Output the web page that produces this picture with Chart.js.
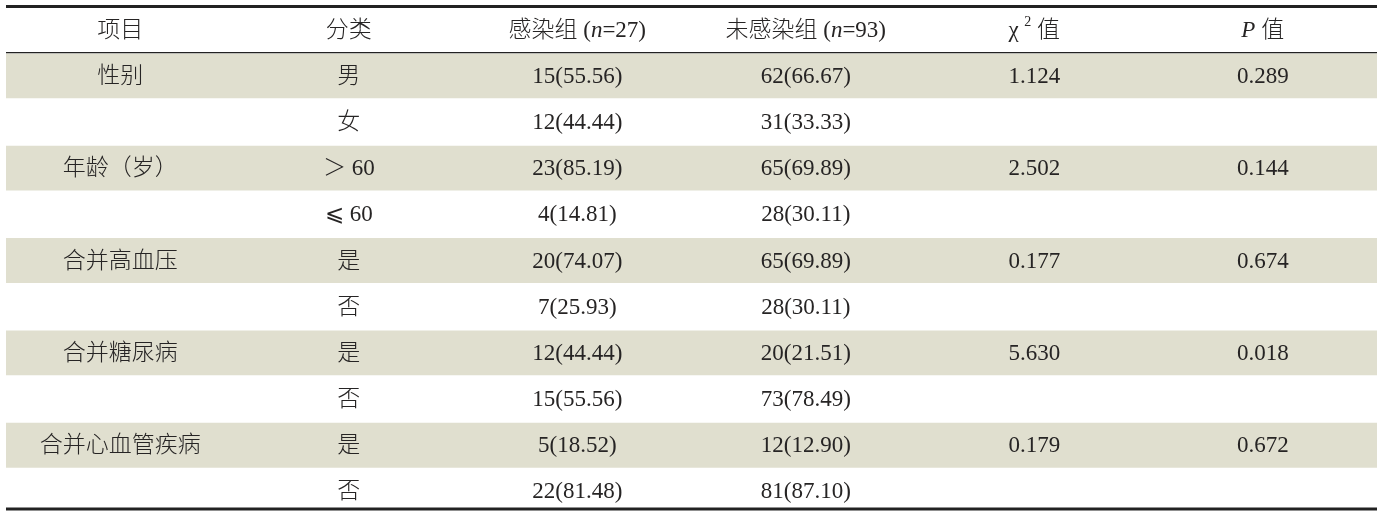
<!DOCTYPE html>
<html>
<head>
<meta charset="utf-8">
<script src="https://cdn.jsdelivr.net/npm/chart.js@4/dist/chart.umd.min.js"></script>
<style>
  html, body { margin: 0; padding: 0; background: #fff; }
  #wrap { width: 1379px; height: 514px; }
</style>
</head>
<body>
<div id="wrap"><canvas id="tabela" width="1379" height="514"></canvas></div>
<script>
// dados da tabela
const itens = ['性别', '', '年龄（岁）', '', '合并高血压', '', '合并糖尿病', '', '合并心血管疾病', ''];
const categorias = ['男', '女', '＞ 60', '⩽ 60', '是', '否', '是', '否', '是', '否'];
const infectadoN = [15, 12, 23, 4, 20, 7, 12, 15, 5, 22];
const infectadoPct = [55.56, 44.44, 85.19, 14.81, 74.07, 25.93, 44.44, 55.56, 18.52, 81.48];
const naoInfectadoN = [62, 31, 65, 28, 65, 28, 20, 73, 12, 81];
const naoInfectadoPct = [66.67, 33.33, 69.89, 30.11, 69.89, 30.11, 21.51, 78.49, 12.90, 87.10];
const qui2 = [1.124, null, 2.502, null, 0.177, null, 5.630, null, 0.179, null];
const valoresP = [0.289, null, 0.144, null, 0.674, null, 0.018, null, 0.672, null];

const totalInf = infectadoN[0] + infectadoN[1];
const totalNao = naoInfectadoN[0] + naoInfectadoN[1];

// cabeçalho em pedaços (itálico / sobrescrito)
const cabecalho = [
    [{ t: '项目' }],
    [{ t: '分类' }],
    [{ t: '感染组 (' }, { t: 'n', it: true }, { t: '=' + totalInf + ')' }],
    [{ t: '未感染组 (' }, { t: 'n', it: true }, { t: '=' + totalNao + ')' }],
    [{ t: 'χ ' }, { t: '2', sup: true }, { t: ' 值' }],
    [{ t: 'P', it: true }, { t: ' 值' }]
];

const FONTE = '"Liberation Serif", "Noto Sans CJK SC", "DejaVu Serif", "DejaVu Sans", serif';
const COR_TEXTO = '#262424';
const COR_FAIXA = '#e0dfcf';

// monta as linhas: 0 = cabeçalho, 1..10 = dados
const linhas = [cabecalho];
for (let i = 0; i < categorias.length; i++) {
    linhas.push([
        [{ t: itens[i] }],
        [{ t: categorias[i] }],
        [{ t: infectadoN[i] + '(' + infectadoPct[i].toFixed(2) + ')' }],
        [{ t: naoInfectadoN[i] + '(' + naoInfectadoPct[i].toFixed(2) + ')' }],
        [{ t: qui2[i] == null ? '' : qui2[i].toFixed(3) }],
        [{ t: valoresP[i] == null ? '' : valoresP[i].toFixed(3) }]
    ]);
}
const nColunas = cabecalho.length;

// faixas: linha sombreada quando começa um item
const faixas = linhas.map((_, r) => ({ x: [0, nColunas], y: r }));
const coresFaixa = linhas.map((_, r) => (r > 0 && itens[r - 1] !== '') ? COR_FAIXA : 'rgba(0,0,0,0)');

function fontePedaco(p) {
    const tam = p.sup ? 14 : 23;
    return (p.it ? 'italic ' : '') + '300 ' + tam + 'px ' + FONTE;
}

function desenharPedacos(ctx, pedacos, cx, cy) {
    let largura = 0;
    pedacos.forEach(p => {
        ctx.font = fontePedaco(p);
        p.w = ctx.measureText(p.t).width;
        largura += p.w;
    });
    let x = cx - largura / 2;
    pedacos.forEach(p => {
        ctx.font = fontePedaco(p);
        ctx.fillText(p.t, x, p.sup ? cy - 8 : cy);
        x += p.w;
    });
}

const pluginTabela = {
    id: 'textoTabela',
    afterDatasetsDraw(chart) {
        const ctx = chart.ctx;
        const sx = chart.scales.x;
        const sy = chart.scales.y;
        const area = chart.chartArea;
        ctx.save();
        ctx.fillStyle = COR_TEXTO;
        ctx.textBaseline = 'middle';
        ctx.textAlign = 'left';
        linhas.forEach((linha, r) => {
            const cy = sy.getPixelForValue(r) + 1;
            linha.forEach((celula, c) => {
                desenharPedacos(ctx, celula, sx.getPixelForValue(c + 0.5), cy);
            });
        });

        // linhas da tabela
        ctx.strokeStyle = '#222';
        ctx.lineWidth = 3;
        ctx.beginPath();
        ctx.moveTo(area.left, area.top);
        ctx.lineTo(area.right, area.top);
        ctx.moveTo(area.left, area.bottom);
        ctx.lineTo(area.right, area.bottom);
        ctx.stroke();
        ctx.lineWidth = 1.3;
        const yCab = sy.getPixelForValue(0.5);
        ctx.beginPath();
        ctx.moveTo(area.left, yCab);
        ctx.lineTo(area.right, yCab);
        ctx.stroke();
        ctx.restore();
    }
};

const ctx = document.getElementById('tabela').getContext('2d');
window.chart = new Chart(ctx, {
    type: 'bar',
    data: {
        datasets: [{
            data: faixas,
            backgroundColor: coresFaixa,
            borderWidth: 0,
            barPercentage: 0.97,
            categoryPercentage: 1
        }]
    },
    options: {
        indexAxis: 'y',
        responsive: false,
        animation: false,
        layout: { padding: { left: 6, right: 2, top: 6.5, bottom: 5 } },
        plugins: { legend: { display: false }, tooltip: { enabled: false } },
        scales: {
            x: { type: 'linear', min: 0, max: nColunas, display: false },
            y: {
                type: 'linear', reverse: true, offset: false,
                min: -0.5, max: linhas.length - 0.62, display: false,
                ticks: { stepSize: 1 },
                // só ticks inteiros, uma por linha da tabela
                afterBuildTicks: s => { s.ticks = s.ticks.filter(t => Number.isInteger(t.value)); }
            }
        }
    },
    plugins: [pluginTabela]
});
</script>
</body>
</html>
